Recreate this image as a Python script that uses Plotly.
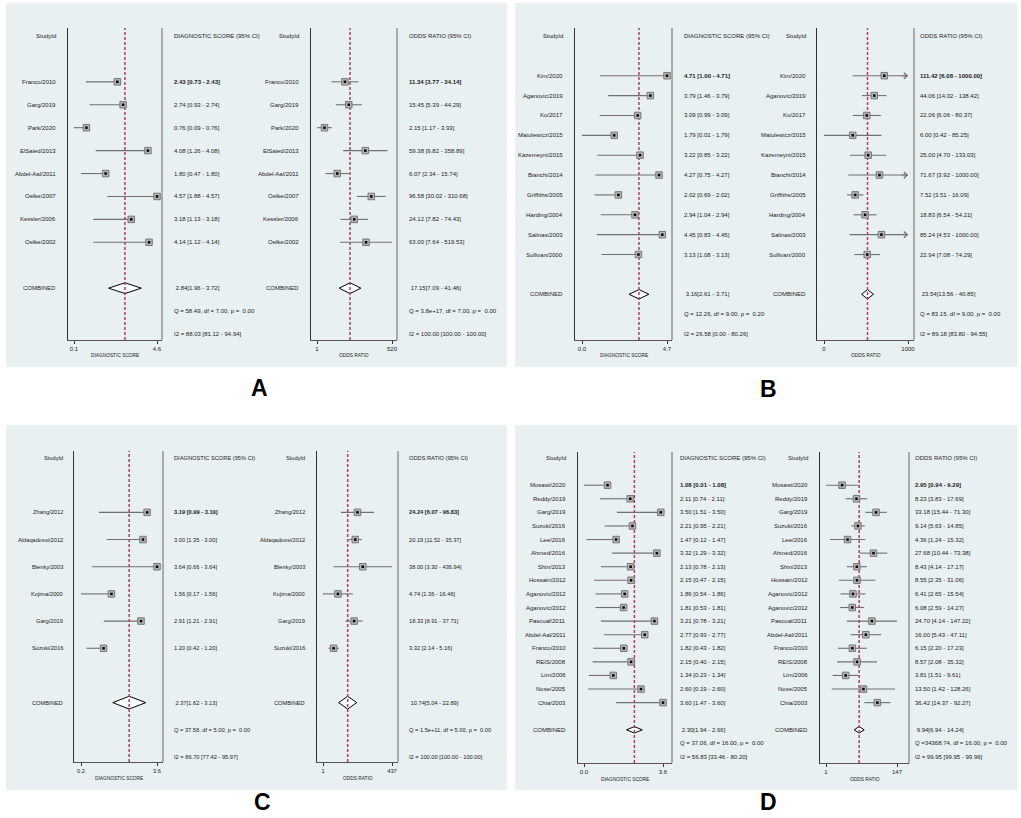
import numpy as np
import plotly.graph_objects as go

W, H = 1021, 818

# ---- panel A ----
studies_a = ["Franco/2010", "Garg/2019", "Park/2020", "ElSaied/2013",
             "Abdel-Aal/2011", "Oelke/2007", "Kessler/2006", "Oelke/2002"]
ds_a = [2.43, 2.74, 0.76, 4.08, 1.80, 4.57, 3.18, 4.14]
ds_lo_a = [0.73, 0.93, 0.09, 1.26, 0.47, 1.88, 1.13, 1.12]
or_a = [11.34, 15.45, 2.15, 59.38, 6.07, 96.58, 24.12, 63.00]
or_lo_a = [3.77, 5.39, 1.17, 9.82, 2.34, 30.02, 7.82, 7.64]
or_hi_a = [34.14, 44.29, 3.93, 358.89, 15.74, 310.68, 74.43, 519.53]
ds_pool_a = [2.84, 1.96, 3.72]
or_pool_a = [17.15, 7.09, 41.46]
ds_stats_a = ["Q = 58.49, df = 7.00, p =  0.00", "I2 = 88.03 [81.12 - 94.94]"]
or_stats_a = ["Q = 3.8e+17, df = 7.00, p =  0.00", "I2 = 100.00 [100.00 - 100.00]"]

# ---- panel B ----
studies_b = ["Kim/2020", "Aganovic/2019", "Ko/2017", "Matulewicz/2015", "Kazemeyni/2015",
             "Bianchi/2014", "Griffiths/2005", "Harding/2004", "Salinas/2003", "Sullivan/2000"]
ds_b = [4.71, 3.79, 3.09, 1.79, 3.22, 4.27, 2.02, 2.94, 4.45, 3.13]
ds_lo_b = [1.00, 1.46, 0.99, 0.01, 0.85, 0.75, 0.69, 1.04, 0.83, 1.08]
or_b = [111.42, 44.06, 22.06, 6.00, 25.00, 71.67, 7.52, 18.83, 85.24, 22.94]
or_lo_b = [6.08, 14.02, 6.06, 0.42, 4.70, 3.92, 3.51, 6.54, 4.53, 7.08]
or_hi_b = [1000.00, 138.42, 80.37, 85.25, 133.03, 1000.00, 16.09, 54.21, 1000.00, 74.29]
ds_pool_b = [3.16, 2.61, 3.71]
or_pool_b = [23.54, 13.56, 40.85]
ds_stats_b = ["Q = 12.26, df = 9.00, p =  0.20", "I2 = 26.58 [0.00 - 80.26]"]
or_stats_b = ["Q = 83.15, df = 9.00, p =  0.00", "I2 = 89.18 [83.80 - 94.55]"]

# ---- panel C ----
studies_c = ["Zhang/2012", "Aldaqadossi/2012", "Blenky/2003", "Kojima/2000",
             "Garg/2019", "Suzuki/2016"]
ds_c = [3.19, 3.00, 3.64, 1.56, 2.91, 1.20]
ds_lo_c = [0.99, 1.35, 0.66, 0.17, 1.21, 0.42]
or_c = [24.24, 20.19, 38.00, 4.74, 18.33, 3.32]
or_lo_c = [6.07, 11.52, 3.30, 1.36, 8.91, 2.14]
or_hi_c = [96.83, 35.37, 436.94, 16.46, 37.71, 5.16]
ds_pool_c = [2.37, 1.62, 3.13]
or_pool_c = [10.74, 5.04, 22.89]
ds_stats_c = ["Q = 37.58, df = 5.00, p =  0.00", "I2 = 86.70 [77.42 - 95.97]"]
or_stats_c = ["Q = 1.5e+11, df = 5.00, p =  0.00", "I2 = 100.00 [100.00 - 100.00]"]

# ---- panel D ----
studies_d = ["Mosawi/2020", "Reddy/2019", "Garg/2019", "Suzuki/2016", "Lee/2016",
             "Ahmed/2016", "Shin/2013", "Hossain/2012", "Aganovic/2012", "Aganovic/2012",
             "Pascual/2011", "Abdel-Aal/2011", "Franco/2010", "REIS/2008", "Lim/2006",
             "Nose/2005", "Chia/2003"]
ds_d = [1.08, 2.11, 3.50, 2.21, 1.47, 3.32, 2.13, 2.15, 1.86, 1.81, 3.21, 2.77,
        1.82, 2.15, 1.34, 2.60, 3.60]
ds_lo_d = [0.01, 0.74, 1.51, 0.95, 0.12, 1.29, 0.78, 0.47, 0.54, 0.53, 0.78, 0.93,
           0.43, 0.40, 0.23, 0.19, 1.47]
or_d = [2.95, 8.23, 33.18, 9.14, 4.36, 27.68, 8.43, 8.55, 6.41, 6.08, 24.70, 16.00,
        6.15, 8.57, 3.81, 13.50, 36.42]
or_lo_d = [0.94, 3.83, 15.44, 5.63, 1.24, 10.44, 4.14, 2.35, 2.65, 2.59, 4.14, 5.43,
           2.20, 2.08, 1.51, 1.42, 14.37]
or_hi_d = [9.29, 17.69, 71.30, 14.85, 15.32, 73.38, 17.17, 31.06, 15.54, 14.27, 147.22,
           47.11, 17.23, 35.32, 9.61, 128.26, 92.27]
ds_pool_d = [2.30, 1.94, 2.66]
or_pool_d = [9.94, 6.94, 14.24]
ds_stats_d = ["Q = 37.06, df = 16.00, p =  0.00", "I2 = 56.83 [33.46 - 80.20]"]
or_stats_d = ["Q =34368.74, df = 16.00, p =  0.00", "I2 = 99.95 [99.95 - 99.96]"]

panels = [
    ("A", studies_a, ds_a, ds_lo_a, or_a, or_lo_a, or_hi_a, ds_pool_a, or_pool_a, ds_stats_a, or_stats_a),
    ("B", studies_b, ds_b, ds_lo_b, or_b, or_lo_b, or_hi_b, ds_pool_b, or_pool_b, ds_stats_b, or_stats_b),
    ("C", studies_c, ds_c, ds_lo_c, or_c, or_lo_c, or_hi_c, ds_pool_c, or_pool_c, ds_stats_c, or_stats_c),
    ("D", studies_d, ds_d, ds_lo_d, or_d, or_lo_d, or_hi_d, ds_pool_d, or_pool_d, ds_stats_d, or_stats_d),
]

# pixel layout: label right edge, axes left/right, first/last tick, text left
geo = {
    "A": dict(bg=(6, 3, 507, 367), top=28, bottom=340, head=36, last=334,
              letter=(259, 388), title_y=355, font=6,
              cols=[(58, 68, 162, 74, 157, 172), (301, 311, 397, 317, 392, 407)]),
    "B": dict(bg=(515, 3, 1017, 367), top=28, bottom=340, head=36, last=334,
              letter=(768, 389), title_y=355, font=6,
              cols=[(565, 575, 672, 582, 667, 682), (808, 817, 914, 824, 908, 918)]),
    "C": dict(bg=(6, 425, 507, 790), top=451, bottom=762, head=458, last=757,
              letter=(262, 802), title_y=778, font=5.7,
              cols=[(65, 74, 163, 81, 157, 172), (307, 317, 398, 323, 392, 407)]),
    "D": dict(bg=(515, 425, 1017, 790), top=452, bottom=763, head=458, last=757,
              letter=(768, 802), title_y=779, font=6,
              cols=[(568, 578, 672, 584, 663, 678), (810, 820, 909, 826, 897, 913)]),
}

FONT = "Liberation Sans, Arial, sans-serif"
BG = "#e8f0f2"
TXT = "#222222"
LINE = "#707070"
DASH = "#b0405f"

fig = go.Figure()
layout = {}
shapes = []
ann = []
k = 0

for name, studies, ds, ds_lo, orr, or_lo, or_hi, ds_pool, or_pool, ds_stats, or_stats in panels:
    g = geo[name]
    bx0, by0, bx1, by1 = g["bg"]
    shapes.append(dict(type="rect", xref="paper", yref="paper", layer="below",
                       x0=bx0 / W, x1=bx1 / W, y0=1 - by1 / H, y1=1 - by0 / H,
                       fillcolor=BG, line_width=0))
    ann.append(dict(text="<b>%s</b>" % name, xref="paper", yref="paper",
                    x=g["letter"][0] / W, y=1 - g["letter"][1] / H, showarrow=False,
                    xanchor="center", yanchor="middle", borderpad=0,
                    font=dict(family=FONT, size=23, color="black")))

    n = len(studies)
    rows = np.arange(n) + 2
    r_pool, r_q, r_i2 = n + 3, n + 4, n + 5
    s = (g["last"] - g["head"]) / (n + 5)
    yr = [r_i2 + (g["bottom"] - g["last"]) / s, -(g["head"] - g["top"]) / s]
    fs = g["font"]

    sides = [
        (ds, ds_lo, ds, ds_pool, ds_stats, "DIAGNOSTIC SCORE (95% CI)", "DIAGNOSTIC SCORE", False),
        (orr, or_lo, or_hi, or_pool, or_stats, "ODDS RATIO (95% CI)", "ODDS RATIO", True),
    ]
    for j, (est, lo, hi, pool, stats, head, xtitle, log) in enumerate(sides):
        k += 1
        sfx = "" if k == 1 else str(k)
        xa, ya = "x" + sfx, "y" + sfx
        lab_r, ax0, ax1, t0, t1, txt_l = g["cols"][j]

        a, b = min(lo), max(hi)
        fa, fb = (np.log10(a), np.log10(b)) if log else (a, b)
        pp = (fb - fa) / (t1 - t0)
        xr = [fa - (t0 - ax0) * pp, fb + (ax1 - t1) * pp]
        tick_fmt = "%.0f" if log else "%.1f"

        layout["xaxis" + sfx] = dict(
            domain=[ax0 / W, ax1 / W], anchor=ya, type="log" if log else "linear",
            range=xr, tickmode="array", tickvals=[a, b],
            ticktext=[tick_fmt % a, tick_fmt % b], ticks="outside", ticklen=3,
            tickcolor="#333", tickwidth=1, tickfont=dict(family=FONT, size=fs, color=TXT),
            showline=True, linecolor="#555", linewidth=1, showgrid=False, zeroline=False,
            fixedrange=True)
        layout["yaxis" + sfx] = dict(
            domain=[1 - g["bottom"] / H, 1 - g["top"] / H], anchor=xa, range=yr,
            tickmode="array", tickvals=[0] + list(rows) + [r_pool, r_q, r_i2],
            showticklabels=False, ticks="", showgrid=True, gridcolor="#e9eef0",
            gridwidth=1, zeroline=False, showline=True, linecolor="#333", linewidth=1.3,
            fixedrange=True)
        shapes.append(dict(type="line", xref=xa + " domain", yref=ya + " domain",
                           x0=1, x1=1, y0=0, y1=1, line=dict(color="#999", width=1.6)))

        # CI lines
        cx, cy = [], []
        for r, l, h in zip(rows, lo, hi):
            cx += [l, h, None]
            cy += [r, r, None]
        fig.add_trace(go.Scatter(x=cx, y=cy, xaxis=xa, yaxis=ya, mode="lines",
                                 line=dict(color=LINE, width=1.1), hoverinfo="skip"))
        # truncated upper limits get an arrow head
        for r, h in zip(rows, hi):
            if log and h >= 1000:
                ann.append(dict(x=np.log10(h), y=r, xref=xa, yref=ya, text="",
                                showarrow=True, ax=-8, ay=0, arrowhead=4, arrowsize=1.2,
                                arrowwidth=1, arrowcolor=LINE, standoff=0))

        # pooled diamond
        pe, plo, phi = pool
        hd = 0.235
        fig.add_trace(go.Scatter(x=[plo, pe, phi, pe, plo],
                                 y=[r_pool, r_pool - hd, r_pool, r_pool + hd, r_pool],
                                 xaxis=xa, yaxis=ya, mode="lines", fill="toself",
                                 fillcolor="white", line=dict(color="black", width=1),
                                 hoverinfo="skip"))
        # pooled estimate reference line
        fig.add_trace(go.Scatter(x=[pe, pe], y=yr, xaxis=xa, yaxis=ya, mode="lines",
                                 line=dict(color=DASH, width=1.5, dash="3px,2px"),
                                 hoverinfo="skip"))
        # study estimates
        fig.add_trace(go.Scatter(x=est, y=rows, xaxis=xa, yaxis=ya, mode="markers",
                                 marker=dict(symbol="square", size=6.5, color="#b4b4b4",
                                             line=dict(color="#777", width=1)),
                                 hoverinfo="skip"))
        fig.add_trace(go.Scatter(x=est, y=rows, xaxis=xa, yaxis=ya, mode="markers",
                                 marker=dict(symbol="square", size=2.5, color="black"),
                                 hoverinfo="skip"))

        # text columns
        left_txt = ["StudyId"] + studies + ["COMBINED"]
        left_rows = [0] + list(rows) + [r_pool]
        right_txt = [head]
        for i, (e, l, h) in enumerate(zip(est, lo, hi)):
            t = "%.2f [%.2f - %.2f]" % (e, l, h)
            right_txt.append("<b>%s</b>" % t if i == 0 else t)
        right_txt += [" %.2f[%.2f - %.2f]" % (pe, plo, phi), stats[0], stats[1]]
        right_rows = [0] + list(rows) + [r_pool, r_q, r_i2]
        for t, r in zip(left_txt, left_rows):
            ann.append(dict(text=t, xref="paper", yref=ya, x=lab_r / W, y=r,
                            xanchor="right", yanchor="middle", showarrow=False,
                            font=dict(family=FONT, size=fs, color=TXT)))
        for t, r in zip(right_txt, right_rows):
            ann.append(dict(text=t, xref="paper", yref=ya, x=txt_l / W, y=r,
                            xanchor="left", yanchor="middle", showarrow=False,
                            font=dict(family=FONT, size=fs, color=TXT)))
        ann.append(dict(text=xtitle, xref="paper", yref="paper",
                        x=(ax0 + ax1) / 2 / W, y=1 - g["title_y"] / H,
                        xanchor="center", yanchor="middle", showarrow=False,
                        font=dict(family=FONT, size=4.8, color=TXT)))

fig.update_layout(
    width=W, height=H, margin=dict(l=0, r=0, t=0, b=0),
    paper_bgcolor="white", plot_bgcolor="white", showlegend=False,
    shapes=shapes, annotations=ann, **layout)

# drop the default page margin so the figure sits at the window's corner
fig.write_html("out.html", config={"displayModeBar": False},
               post_script="document.body.style.margin='0';")
